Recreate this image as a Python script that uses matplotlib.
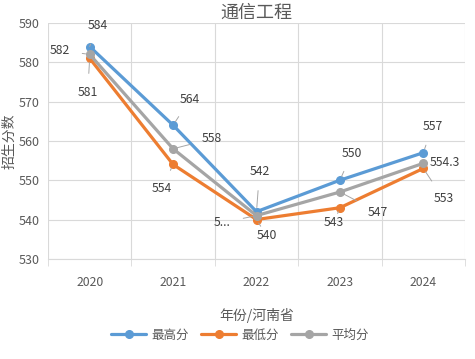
import matplotlib
matplotlib.use('Agg')
import matplotlib.pyplot as plt
import numpy as np

plt.rcParams['font.family'] = ['Noto Sans CJK SC', 'DejaVu Sans']

years = [2020, 2021, 2022, 2023, 2024]
highest = [584, 564, 542, 550, 557]
lowest = [581, 554, 540, 543, 553]
average = [582, 558, 541, 547, 554.3]
series_names = ['最高分', '最低分', '平均分']

# label text + offset (pixels) for each point
high_labels = ['584', '564', '542', '550', '557']
high_off = [(8, 21), (17, 26), (3, 40), (12, 27), (9, 26)]
low_labels = ['581', '554', '540', '543', '553']
low_off = [(-2, -34), (-11, -24), (10, -16), (-6, -15), (20, -30)]
avg_labels = ['582', '558', '5...', '547', '554.3']
avg_off = [(-30, 4), (39, 10), (-34, -7), (38, -20), (22, 1)]

colors = ['#5B9BD5', '#ED7D31', '#A5A5A5']

fig = plt.figure(figsize=(4.75, 3.59), dpi=100)
ax = fig.add_axes([0.101, 0.279, 0.878, 0.657])

for vals, c, name in zip([highest, lowest, average], colors, series_names):
    ax.plot(years, vals, color=c, lw=2.3, marker='o', ms=5.5, label=name,
            solid_capstyle='round', zorder=3)

for vals, labs, offs in [(highest, high_labels, high_off),
                         (lowest, low_labels, low_off),
                         (average, avg_labels, avg_off)]:
    for x, y, t, o in zip(years, vals, labs, offs):
        ax.annotate(t, (x, y), xytext=o, textcoords='offset pixels',
                    ha='center', va='center', fontsize=8.8, color='#404040',
                    arrowprops=dict(arrowstyle='-', color='#A6A6A6', lw=0.7,
                                    shrinkA=7, shrinkB=3))

ax.set_xlim(2019.5, 2024.5)
ax.set_ylim(530, 590)
ax.set_yticks(range(530, 591, 10))
ax.set_xticks(years)
ax.set_xticks(np.arange(2019.5, 2025, 1), minor=True)
ax.tick_params(axis='x', which='major', length=0, pad=12, labelsize=8.8, labelcolor='#595959')
ax.tick_params(axis='x', which='minor', length=5, color='#D9D9D9', direction='out')
ax.tick_params(axis='y', length=0, pad=6, labelsize=9, labelcolor='#595959')
ax.grid(True, which='minor', axis='x', color='#D9D9D9', lw=0.8)
ax.grid(True, which='major', axis='y', color='#D9D9D9', lw=0.8)
for s in ['top', 'right', 'left']:
    ax.spines[s].set_visible(False)
ax.spines['bottom'].set_color('#D9D9D9')
ax.set_axisbelow(True)

ax.set_title('通信工程', fontsize=13, color='#595959', pad=4)
ax.set_ylabel('招生分数', fontsize=10, color='#595959', va='center')
ax.yaxis.set_label_coords(-0.092, 0.5)
ax.set_xlabel('年份/河南省', fontsize=10, color='#595959', labelpad=14)

fig.legend(loc='center', bbox_to_anchor=(0.505, 0.067), ncol=3, frameon=False,
           fontsize=9, labelcolor='#595959', handlelength=2.8, columnspacing=1.0,
           handletextpad=0.4)

fig.savefig('out.png', dpi=100)
